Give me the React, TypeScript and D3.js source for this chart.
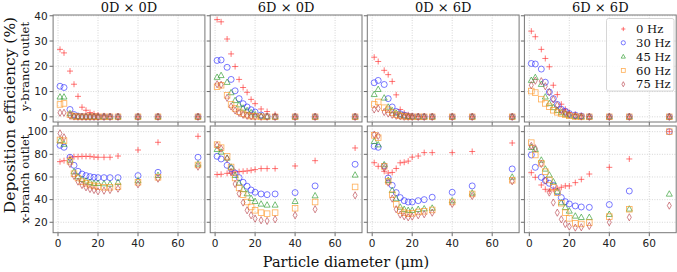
import React from "react";
import * as d3 from "d3";

// particle diameters (µm) shared by every panel
const diameters = [1, 3, 6, 8, 10, 12, 14, 16, 18, 20, 23, 26, 30, 40, 50, 70];
const freqLabels = ["0 Hz", "30 Hz", "45 Hz", "60 Hz", "75 Hz"];
const panelTitles = ["0D × 0D", "6D × 0D", "0D × 6D", "6D × 6D"];
const rowLabels = ["y-branch outlet", "x-branch outlet"];
const yTicksTop = [0, 10, 20, 30, 40];
const yTicksBottom = [20, 40, 60, 80, 100];
const xTicks = [0, 20, 40, 60];

// y-branch outlet, one row per frequency (0, 30, 45, 60, 75 Hz)
const yBranch0D0D = [
  [26.7, 25.3, 18.1, 12.9, 8.1, 3.8, 2.6, 1.7, 1.2, 0.7, 0.4, 0.2, 0, 0, 0, 0],
  [12.1, 11.6, 2.9, 0.9, 0.3, 0.1, 0, 0, 0, 0, 0, 0, 0, 0, 0, 0],
  [7.9, 7.9, 1.3, 0.3, 0.1, 0, 0, 0, 0, 0, 0, 0, 0, 0, 0, 0],
  [4.9, 5.3, 0.8, 0.2, 0, 0, 0, 0, 0, 0, 0, 0, 0, 0, 0, 0],
  [1.6, 1.6, 0.4, 0.1, 0, 0, 0, 0, 0, 0, 0, 0, 0, 0, 0, 0],
];
const yBranch6D0D = [
  [38.5, 37.6, 30.8, 24.9, 19.9, 14.8, 11.6, 9.7, 6.9, 5.2, 3.1, 2.1, 0.9, 0, 0, 0],
  [22.3, 22.5, 19.6, 14.8, 10.3, 7.2, 5.2, 3.9, 2.8, 1.9, 0.7, 0.1, 0, 0, 0, 0],
  [15.7, 16.4, 13.7, 9.6, 6.5, 4.8, 3.5, 2.5, 1.7, 0.9, 0.3, 0.1, 0, 0, 0, 0],
  [11.9, 12.5, 8.5, 4.9, 3.3, 2.0, 1.2, 0.7, 0.3, 0.2, 0, 0, 0, 0, 0, 0],
  [12.9, 12.7, 7.5, 4.1, 2.5, 1.5, 0.8, 0.4, 0.2, 0.1, 0, 0, 0, 0, 0, 0],
];
const yBranch0D6D = [
  [23.6, 21.9, 18.4, 16.7, 14.0, 8.7, 2.9, 1.5, 0.8, 0.4, 0.2, 0, 0, 0, 0, 0],
  [13.5, 14.4, 12.8, 7.2, 3.9, 2.1, 1.2, 0.7, 0.3, 0.1, 0, 0, 0, 0, 0, 0],
  [8.9, 10.9, 7.5, 3.9, 2.5, 1.5, 0.8, 0.4, 0.2, 0, 0, 0, 0, 0, 0, 0],
  [4.9, 5.9, 3.6, 2.8, 1.7, 0.9, 0.4, 0.2, 0, 0, 0, 0, 0, 0, 0, 0],
  [2.9, 3.3, 1.9, 1.3, 0.8, 0.4, 0.2, 0, 0, 0, 0, 0, 0, 0, 0, 0],
];
const yBranch6D6D = [
  [33.9, 31.7, 26.7, 23.1, 19.8, 12.5, 8.8, 5.0, 3.0, 1.7, 0.9, 0.4, 0.1, 0, 0, 0],
  [21.1, 20.9, 18.9, 13.7, 9.8, 7.2, 4.9, 3.0, 2.2, 1.3, 0.7, 0.3, 0, 0, 0, 0],
  [14.5, 15.6, 12.9, 7.9, 5.3, 3.7, 2.6, 1.7, 1.1, 0.5, 0.2, 0, 0, 0, 0, 0],
  [10.2, 9.6, 7.0, 5.3, 4.0, 2.6, 1.8, 1.3, 0.8, 0.4, 0.1, 0, 0, 0, 0, 0],
  [12.5, 14.3, 14.1, 12.1, 9.8, 6.9, 4.6, 2.6, 1.6, 0.9, 0.4, 0.1, 0, 0, 0, 0],
];

// x-branch outlet
const xBranch0D0D = [
  [73.5, 74.4, 77.4, 77.9, 77.9, 78.2, 78.2, 78.2, 77.6, 77.4, 77.4, 77.4, 78.5, 83.8, 90.6, 95.9],
  [87.9, 86.2, 77.4, 70.3, 65.0, 62.6, 61.2, 60.3, 59.7, 59.4, 59.4, 59.4, 59.4, 61.2, 64.1, 77.4],
  [92.0, 89.0, 75.0, 64.7, 60.3, 57.9, 56.5, 55.3, 54.4, 54.4, 54.1, 53.8, 55.3, 56.8, 61.5, 71.5],
  [92.6, 92.0, 73.8, 62.9, 59.1, 55.9, 54.4, 52.9, 52.1, 51.5, 50.9, 50.9, 51.5, 55.3, 59.7, 70.6],
  [98.5, 95.0, 71.5, 60.9, 55.9, 52.9, 50.9, 49.4, 48.5, 47.4, 47.9, 48.5, 49.7, 53.5, 58.5, 69.1],
];
const xBranch6D0D = [
  [62.1, 62.4, 63.2, 63.5, 64.4, 64.7, 65.0, 65.3, 65.9, 66.5, 67.4, 67.4, 67.4, 69.7, 74.4, 85.6],
  [78.2, 75.9, 70.3, 67.4, 63.5, 59.4, 55.3, 51.8, 48.5, 46.5, 45.0, 44.4, 45.0, 46.2, 52.1, 71.2],
  [84.4, 82.1, 76.8, 68.8, 61.5, 54.7, 49.1, 45.3, 41.2, 38.5, 36.2, 35.3, 35.3, 38.5, 43.5, 61.8],
  [88.5, 85.9, 78.2, 68.8, 59.1, 50.3, 44.4, 37.9, 33.5, 30.6, 28.5, 27.6, 28.5, 32.4, 37.9, 51.2],
  [87.9, 85.0, 76.2, 64.4, 53.8, 45.3, 37.4, 30.6, 26.2, 23.2, 21.8, 21.2, 22.6, 26.2, 31.5, 43.8],
];
const xBranch0D6D = [
  [72.6, 69.4, 65.0, 63.5, 64.0, 67.5, 72.5, 73.0, 74.0, 77.5, 78.5, 81.5, 81.5, 81.5, 82.5, 90.0],
  [87.1, 86.2, 69.7, 59.1, 52.6, 46.2, 41.8, 39.1, 37.9, 37.9, 39.1, 40.0, 42.1, 46.5, 52.1, 67.1],
  [91.5, 88.5, 70.9, 57.1, 48.2, 40.9, 33.5, 31.5, 30.6, 30.6, 31.5, 32.0, 32.6, 39.1, 45.9, 60.0],
  [96.8, 94.7, 69.4, 56.2, 44.4, 35.9, 30.3, 28.5, 27.6, 27.9, 29.1, 29.7, 30.9, 37.9, 45.0, 57.1],
  [97.4, 96.2, 67.9, 55.0, 40.9, 31.5, 26.8, 25.3, 24.4, 25.0, 26.2, 27.1, 28.5, 36.2, 43.2, 56.2],
];
const xBranch6D6D = [
  [63.8, 59.7, 52.9, 49.1, 47.6, 49.1, 50.0, 50.9, 52.1, 52.1, 55.0, 57.9, 62.6, 68.5, 75.9, 100],
  [79.4, 68.5, 59.7, 56.8, 54.4, 52.6, 46.8, 41.8, 38.2, 36.2, 34.4, 33.5, 33.2, 35.6, 47.6, 100],
  [86.2, 84.4, 75.0, 67.1, 61.8, 55.9, 47.1, 37.4, 33.2, 30.0, 25.6, 24.4, 24.4, 27.1, 31.8, 45.0],
  [90.3, 79.4, 72.1, 64.7, 57.4, 50.9, 46.2, 36.8, 28.5, 23.5, 19.1, 18.5, 19.7, 25.0, 31.5, 100],
  [87.4, 85.3, 71.5, 56.8, 46.2, 37.4, 28.5, 22.6, 18.5, 16.2, 15.3, 15.6, 16.8, 20.0, 24.4, 34.7],
];

const rows = [
  [yBranch0D0D, yBranch6D0D, yBranch0D6D, yBranch6D6D],
  [xBranch0D0D, xBranch6D0D, xBranch0D6D, xBranch6D6D],
];

const colors = ["#ff2a2a", "#3030ff", "#2a9a2a", "#ff9a2a", "#b8404a"];
const serif = "'DejaVu Serif', serif";
const sans = "'DejaVu Sans', sans-serif";

function Marker({ kind, x, y, color, s = 1 }: { kind: number; x: number; y: number; color: string; s?: number }) {
  const common = { fill: "none", stroke: color, strokeWidth: 0.8, opacity: 0.8 };
  if (kind === 0) return <path d={`M${x - 3 * s},${y}H${x + 3 * s}M${x},${y - 3 * s}V${y + 3 * s}`} {...common} />;
  if (kind === 1) return <circle cx={x} cy={y} r={3 * s} {...common} />;
  if (kind === 2) return <path d={`M${x},${y - 3.2 * s}L${x + 3 * s},${y + 2.2 * s}L${x - 3 * s},${y + 2.2 * s}Z`} {...common} />;
  if (kind === 3) return <rect x={x - 2.8 * s} y={y - 2.8 * s} width={5.6 * s} height={5.6 * s} {...common} />;
  return <path d={`M${x},${y - 3.6 * s}L${x + 2 * s},${y}L${x},${y + 3.6 * s}L${x - 2 * s},${y}Z`} {...common} />;
}

export default function App() {
  const W = 677;
  const H = 272;
  const panelW = 151.8;
  const lefts = [53.1, 210.2, 367.3, 524.4];
  const rowBox = [
    { top: 15, bottom: 122, domain: [-2.05, 40.3], ticks: yTicksTop },
    { top: 126, bottom: 232.7, domain: [10.8, 105], ticks: yTicksBottom },
  ];

  return (
    <svg width={W} height={H} style={{ position: "absolute", left: 0, top: 0, background: "#fff" }}>
      {rows.map((panels, ri) => {
        const rb = rowBox[ri];
        const y = d3.scaleLinear().domain(rb.domain).range([rb.bottom, rb.top]);
        return panels.map((series, ci) => {
          const left = lefts[ci];
          const x = d3.scaleLinear().domain([-2.45, 73.45]).range([left, left + panelW]);
          return (
            <g key={`${ri}-${ci}`}>
              {/* grid */}
              {xTicks.map((t) => (
                <line key={`gx${t}`} x1={x(t)} x2={x(t)} y1={rb.top} y2={rb.bottom} stroke="#c4c4c4" strokeWidth={0.7} strokeDasharray="1,1.5" />
              ))}
              {rb.ticks.map((t) => (
                <line key={`gy${t}`} x1={left} x2={left + panelW} y1={y(t)} y2={y(t)} stroke="#c4c4c4" strokeWidth={0.7} strokeDasharray="1,1.5" />
              ))}
              {/* ticks */}
              {xTicks.map((t) => (
                <line key={`tx${t}`} x1={x(t)} x2={x(t)} y1={rb.bottom} y2={rb.bottom + 3.5} stroke="#444" strokeWidth={0.8} />
              ))}
              {rb.ticks.map((t) => (
                <line key={`ty${t}`} x1={left - 3.5} x2={left} y1={y(t)} y2={y(t)} stroke="#444" strokeWidth={0.8} />
              ))}
              {ci === 0 &&
                rb.ticks.map((t) => (
                  <text key={`ly${t}`} x={left - 5.5} y={y(t)} dy="0.36em" textAnchor="end" fontFamily={sans} fontSize={10.5} fill="#222">
                    {t}
                  </text>
                ))}
              {ri === 1 &&
                xTicks.map((t) => (
                  <text key={`lx${t}`} x={x(t)} y={rb.bottom + 14} textAnchor="middle" fontFamily={sans} fontSize={10.5} fill="#222">
                    {t}
                  </text>
                ))}
              {/* markers */}
              {series.map((vals, si) =>
                vals.map((v, k) => <Marker key={`m${si}-${k}`} kind={si} x={x(diameters[k])} y={y(v)} color={colors[si]} />)
              )}
              <rect x={left} y={rb.top} width={panelW} height={rb.bottom - rb.top} fill="none" stroke="#777" strokeWidth={1} />
              {ri === 0 && (
                <text x={left + panelW / 2} y={11.5} textAnchor="middle" fontFamily={serif} fontSize={13} fill="#111">
                  {panelTitles[ci]}
                </text>
              )}
            </g>
          );
        });
      })}

      {/* legend */}
      <g>
        <rect x={606.5} y={18.5} width={67.5} height={72.5} rx={2} fill="#fff" fillOpacity={0.85} stroke="#ccc" strokeWidth={0.8} />
        {freqLabels.map((lab, i) => (
          <g key={lab}>
            <Marker kind={i} x={623.3} y={29 + i * 13.8} color={colors[i]} s={0.7} />
            <text x={636} y={29 + i * 13.8} dy="0.36em" fontFamily={serif} fontSize={11.6} fill="#111">
              {lab}
            </text>
          </g>
        ))}
      </g>

      {/* axis labels */}
      <text transform="translate(14.5,115) rotate(-90)" textAnchor="middle" fontFamily={serif} fontSize={15.5} fill="#111">
        Deposition efficiency (%)
      </text>
      <text transform="translate(29,66.5) rotate(-90)" textAnchor="middle" fontFamily={serif} fontSize={11.5} fill="#111">
        {rowLabels[0]}
      </text>
      <text transform="translate(29,179) rotate(-90)" textAnchor="middle" fontFamily={serif} fontSize={11.5} fill="#111">
        {rowLabels[1]}
      </text>
      <text x={346} y={267} textAnchor="middle" fontFamily={serif} fontSize={14.5} fill="#111">
        Particle diameter (μm)
      </text>
    </svg>
  );
}
